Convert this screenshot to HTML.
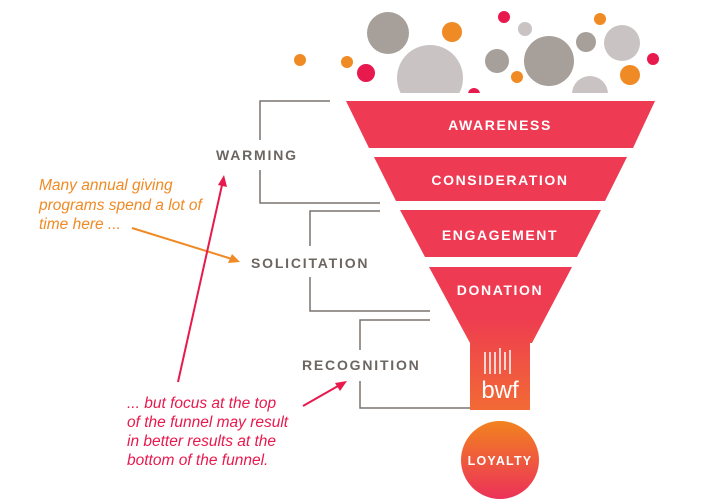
<!DOCTYPE html>
<html><head><style>
body{margin:0;background:#fff;}
svg{display:block;}
.lbl{font-family:"Liberation Sans",sans-serif;font-weight:bold;font-size:14px;fill:#fff;letter-spacing:1.6px;text-anchor:middle;}
.side{font-family:"Liberation Sans",sans-serif;font-weight:bold;font-size:14px;fill:#6d6560;letter-spacing:1.8px;}
.it{font-family:"Liberation Sans",sans-serif;font-style:italic;font-size:15.5px;}
</style></head><body>
<svg width="720" height="504" viewBox="0 0 720 504">
<defs>
<linearGradient id="fg" x1="0" y1="267" x2="0" y2="410" gradientUnits="userSpaceOnUse">
<stop offset="0" stop-color="#ee3a52"/><stop offset="0.35" stop-color="#ee3c50"/><stop offset="1" stop-color="#f26a35"/></linearGradient>
<linearGradient id="lg" x1="0" y1="0" x2="0" y2="1">
<stop offset="0" stop-color="#f2831f"/><stop offset="1" stop-color="#ec3159"/></linearGradient>
</defs>
<g>
<circle cx="430" cy="78" r="33" fill="#c9c4c3"/>
<circle cx="590" cy="94" r="18" fill="#c9c4c3"/>
<circle cx="388" cy="33" r="21" fill="#a79f99"/>
<circle cx="452" cy="32" r="10" fill="#f08a24"/>
<circle cx="504" cy="17" r="6" fill="#e8194d"/>
<circle cx="525" cy="29" r="7" fill="#c9c4c3"/>
<circle cx="497" cy="61" r="12" fill="#a79f99"/>
<circle cx="549" cy="61" r="25" fill="#a79f99"/>
<circle cx="586" cy="42" r="10" fill="#a79f99"/>
<circle cx="622" cy="43" r="18" fill="#c9c4c3"/>
<circle cx="600" cy="19" r="6" fill="#f08a24"/>
<circle cx="653" cy="59" r="6" fill="#e8194d"/>
<circle cx="630" cy="75" r="10" fill="#f08a24"/>
<circle cx="517" cy="77" r="6" fill="#f08a24"/>
<circle cx="474" cy="94" r="6" fill="#e8194d"/>
<circle cx="366" cy="73" r="9" fill="#e8194d"/>
<circle cx="347" cy="62" r="6" fill="#f08a24"/>
<circle cx="300" cy="60" r="6" fill="#f08a24"/>
<rect x="340" y="93" width="330" height="8" fill="#fff"/>
</g>
<polygon points="346,101 655,101 633,148 369,148" fill="#ee3a52"/>
<polygon points="374,157 627,157 605,201 396,201" fill="#ee3a52"/>
<polygon points="400,210 601,210 577,257 425,257" fill="#ee3a52"/>
<polygon points="429,267 572,267 532,343 530,343 530,410 470,410 470,343" fill="url(#fg)"/>
<text class="lbl" x="500" y="130">AWARENESS</text>
<text class="lbl" x="500" y="185">CONSIDERATION</text>
<text class="lbl" x="500" y="240">ENGAGEMENT</text>
<text class="lbl" x="500" y="295">DONATION</text>
<g stroke="#fff" stroke-width="1.5">
<line x1="485" y1="352" x2="485" y2="374"/><line x1="490" y1="352" x2="490" y2="374"/><line x1="495" y1="352" x2="495" y2="374"/><line x1="500" y1="348" x2="500" y2="374"/><line x1="505" y1="352" x2="505" y2="370"/><line x1="510" y1="350" x2="510" y2="374"/>
</g>
<text x="500" y="398" font-family="Liberation Sans,sans-serif" font-size="24" fill="#fff" text-anchor="middle">bwf</text>
<circle cx="500" cy="460" r="39" fill="url(#lg)"/>
<text class="lbl" x="500" y="465" style="font-size:12.5px;letter-spacing:1.2px">LOYALTY</text>
<g stroke="#7a736e" stroke-width="1.5" fill="none">
<polyline points="330,101 260,101 260,140"/>
<polyline points="260,170 260,203 380,203"/>
<polyline points="380,211 310,211 310,246"/>
<polyline points="310,277 310,311 430,311"/>
<polyline points="430,320 360,320 360,350"/>
<polyline points="360,381 360,408 470,408"/>
</g>
<text class="side" x="216" y="160">WARMING</text>
<text class="side" x="251" y="268">SOLICITATION</text>
<text class="side" x="302" y="370">RECOGNITION</text>
<text class="it" fill="#f08a24"><tspan x="39" y="190">Many annual giving</tspan><tspan x="39" y="210">programs spend a lot of</tspan><tspan x="39" y="229">time here ...</tspan></text>
<line x1="132" y1="228" x2="232" y2="259" stroke="#f08a24" stroke-width="2"/>
<polygon points="240,262 228,263 232,254" fill="#f08a24"/>
<line x1="178" y1="382" x2="222" y2="185" stroke="#e8194d" stroke-width="2"/>
<polygon points="224,175 227,187 218,185" fill="#e8194d"/>
<line x1="303" y1="406" x2="338" y2="386" stroke="#e8194d" stroke-width="2"/>
<polygon points="347,381 340,391 335,383" fill="#e8194d"/>
<text class="it" fill="#e8194d"><tspan x="127" y="408">... but focus at the top</tspan><tspan x="127" y="427">of the funnel may result</tspan><tspan x="127" y="446">in better results at the</tspan><tspan x="127" y="465">bottom of the funnel.</tspan></text>
</svg>
</body></html>
